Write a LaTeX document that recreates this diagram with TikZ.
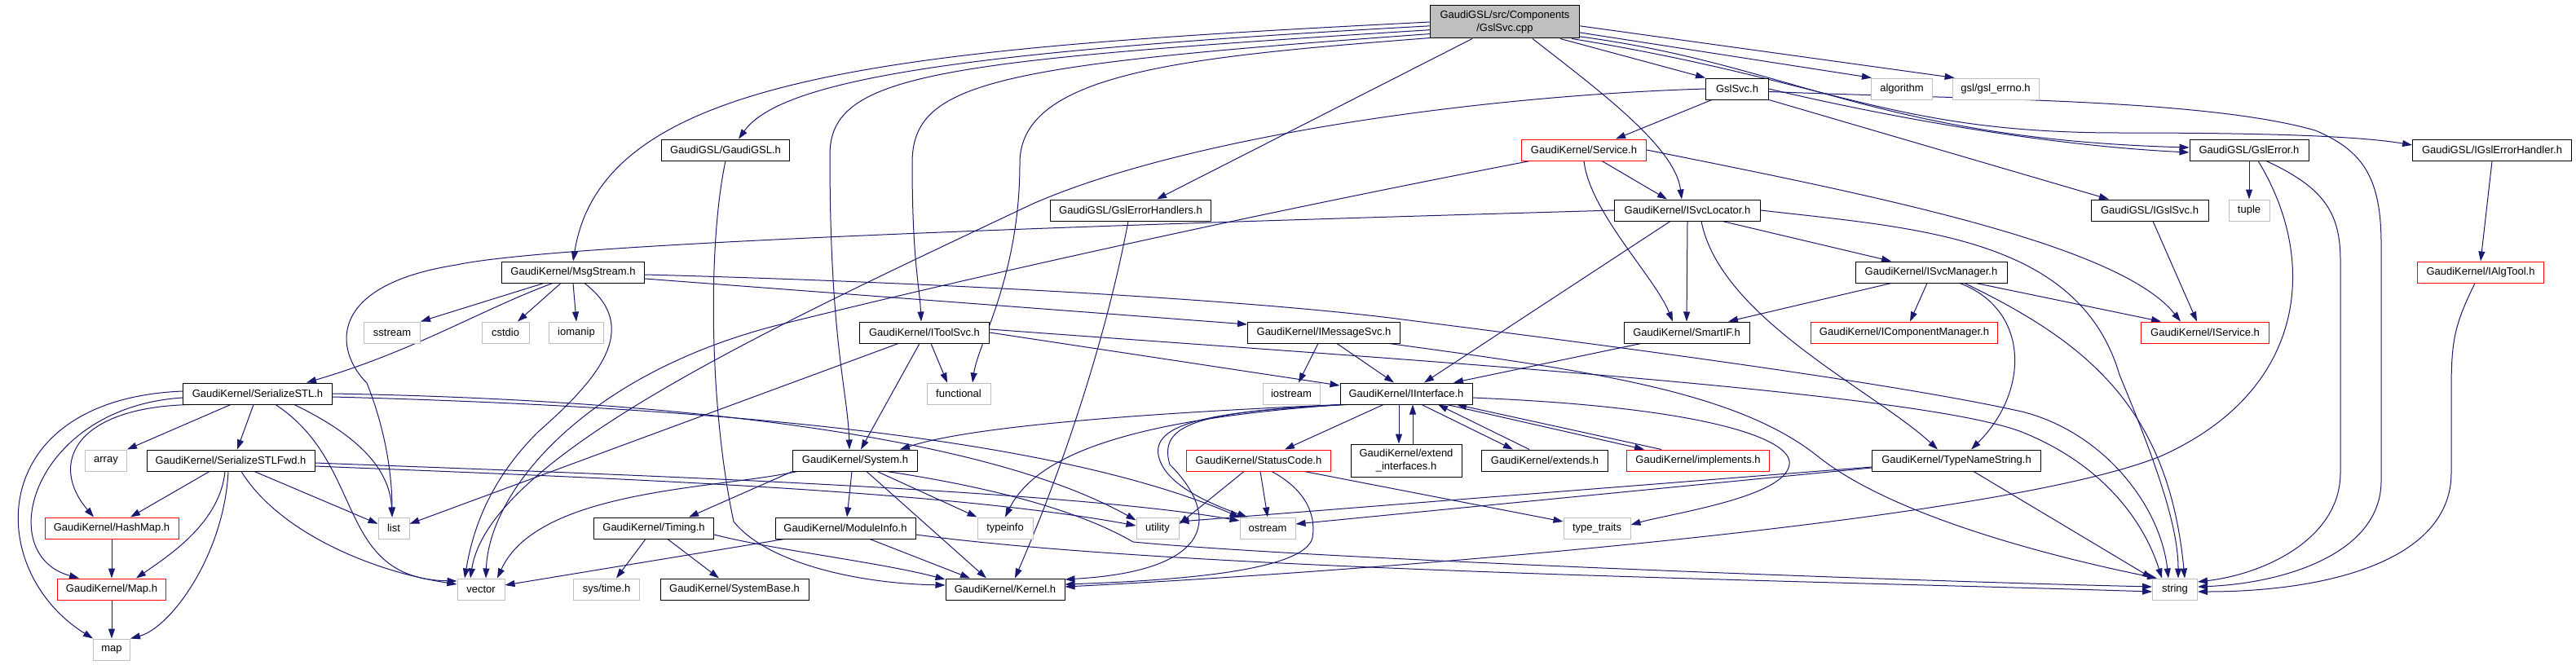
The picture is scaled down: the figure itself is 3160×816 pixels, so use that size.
\documentclass[tikz,border=0pt]{standalone}
\usepackage{fontspec}
\setmainfont{Liberation Sans}
\usetikzlibrary{arrows.meta}
\definecolor{edgec}{HTML}{191970}
\definecolor{extc}{HTML}{BFBFBF}
\pgfdeclarelayer{background}
\pgfsetlayers{background,main}
\tikzset{
 box/.style={draw=black, fill=white, line width=1pt, minimum height=26pt, inner sep=0pt, font=\fontsize{13}{15.5}\selectfont, text=black},
 redbox/.style={box, draw=red},
 extbox/.style={box, draw=extc},
 rootbox/.style={box, fill=extc, minimum height=40pt, align=center},
 edge/.style={draw=edgec, line width=1pt, -{Triangle[length=12pt,width=8pt]}},
}
\begin{document}
\begin{tikzpicture}[x=1pt,y=-1pt]
\useasboundingbox (0,0) rectangle (3160,816);
% nodes
\node[rootbox, minimum width=183pt] (root) at (1846,27) {GaudiGSL/src/Components\\/GslSvc.cpp};
\node[box, minimum width=157pt] (gaudigsl) at (890,184) {GaudiGSL/GaudiGSL.h};
\node[box, minimum width=175pt] (msgstream) at (703,334) {GaudiKernel/MsgStream.h};
\node[extbox, minimum width=69pt] (sstream) at (481,408) {sstream};
\node[extbox, minimum width=58pt] (cstdio) at (620,408) {cstdio};
\node[extbox, minimum width=67pt] (iomanip) at (707,408) {iomanip};
\node[box, minimum width=183pt] (serstl) at (316,483) {GaudiKernel/SerializeSTL.h};
\node[extbox, minimum width=51pt] (array) at (130,565) {array};
\node[box, minimum width=206pt] (serfwd) at (283,565) {GaudiKernel/SerializeSTLFwd.h};
\node[redbox, minimum width=164pt] (hashmap) at (137,648) {GaudiKernel/HashMap.h};
\node[extbox, minimum width=38pt] (list) at (483,648) {list};
\node[redbox, minimum width=133pt] (mapH) at (137,723) {GaudiKernel/Map.h};
\node[extbox, minimum width=45pt] (map) at (137,797) {map};
\node[extbox, minimum width=58pt] (vector) at (590,723) {vector};
\node[box, minimum width=147pt] (timing) at (802,648) {GaudiKernel/Timing.h};
\node[extbox, minimum width=81pt] (systime) at (744,723) {sys/time.h};
\node[box, minimum width=182pt] (sysbase) at (901,723) {GaudiKernel/SystemBase.h};
\node[box, minimum width=172pt] (moduleinfo) at (1037,648) {GaudiKernel/ModuleInfo.h};
\node[box, minimum width=153pt] (system) at (1049,565) {GaudiKernel/System.h};
\node[box, minimum width=146pt] (kernel) at (1233,723) {GaudiKernel/Kernel.h};
\node[extbox, minimum width=68pt] (typeinfo) at (1233,648) {typeinfo};
\node[extbox, minimum width=52pt] (utility) at (1420,648) {utility};
\node[extbox, minimum width=68pt] (ostream) at (1555,648) {ostream};
\node[extbox, minimum width=82pt] (typetraits) at (1959,648) {type\_traits};
\node[redbox, minimum width=177pt] (statuscode) at (1544,565) {GaudiKernel/StatusCode.h};
\node[box, minimum width=136pt, minimum height=40pt, align=center] (extif) at (1725,565) {GaudiKernel/extend\\\_interfaces.h};
\node[box, minimum width=155pt] (extends) at (1895,565) {GaudiKernel/extends.h};
\node[redbox, minimum width=175pt] (implements) at (2083,565) {GaudiKernel/implements.h};
\node[box, minimum width=207pt] (typename) at (2400,565) {GaudiKernel/TypeNameString.h};
\node[extbox, minimum width=55pt] (string) at (2668,723) {string};
\node[box, minimum width=159pt] (itoolsvc) at (1134,408) {GaudiKernel/IToolSvc.h};
\node[extbox, minimum width=78pt] (functional) at (1176,483) {functional};
\node[box, minimum width=187pt] (imsgsvc) at (1624,408) {GaudiKernel/IMessageSvc.h};
\node[extbox, minimum width=70pt] (iostream) at (1584,483) {iostream};
\node[box, minimum width=162pt] (iinterface) at (1725,483) {GaudiKernel/IInterface.h};
\node[box, minimum width=154pt] (smartif) at (2069,408) {GaudiKernel/SmartIF.h};
\node[box, minimum width=197pt] (errhandlers) at (1387,258) {GaudiGSL/GslErrorHandlers.h};
\node[redbox, minimum width=153pt] (service) at (1943,184) {GaudiKernel/Service.h};
\node[box, minimum width=179pt] (isvcloc) at (2070,258) {GaudiKernel/ISvcLocator.h};
\node[box, minimum width=77pt] (gslsvc) at (2131,109) {GslSvc.h};
\node[extbox, minimum width=75pt] (algorithm) at (2333,109) {algorithm};
\node[extbox, minimum width=106pt] (gslerrno) at (2448,109) {gsl/gsl\_errno.h};
\node[box, minimum width=146pt] (gslerror) at (2759,184) {GaudiGSL/GslError.h};
\node[box, minimum width=195pt] (igslerrh) at (3057,184) {GaudiGSL/IGslErrorHandler.h};
\node[box, minimum width=144pt] (igslsvc) at (2637,258) {GaudiGSL/IGslSvc.h};
\node[extbox, minimum width=50pt] (tuple) at (2759,258) {tuple};
\node[box, minimum width=186pt] (isvcmgr) at (2369,334) {GaudiKernel/ISvcManager.h};
\node[redbox, minimum width=229pt] (icompmgr) at (2336,408) {GaudiKernel/IComponentManager.h};
\node[redbox, minimum width=157pt] (iservice) at (2705,408) {GaudiKernel/IService.h};
\node[redbox, minimum width=155pt] (ialgtool) at (3043,334) {GaudiKernel/IAlgTool.h};

\begin{pgfonlayer}{background}
\fill[white] (0,0) rectangle (3160,816);
% root
\draw[edge] (root.180) .. controls (1100,60) and (740,90) .. (msgstream.north);
\draw[edge] (root.183) .. controls (1200,62) and (960,95) .. ([xshift=16pt]gaudigsl.north);
\draw[edge] (root.186) .. controls (1150,75) and (1018,90) .. (1018,190) .. controls (1018,420) and (1040,480) .. ([xshift=-7pt]system.north);
\draw[edge] (root.189) .. controls (1220,80) and (1119,100) .. (1119,200) .. controls (1119,320) and (1128,350) .. ([xshift=-4pt]itoolsvc.north);
\draw[edge] (root.192) .. controls (1450,70) and (1251,90) .. (1251,200) .. controls (1251,340) and (1200,420) .. ([xshift=17pt]functional.north);
\draw[edge] ([xshift=-40pt]root.south) -- ([xshift=32pt]errhandlers.north);
\draw[edge] ([xshift=34pt]root.south) .. controls (1960,110) and (2055,180) .. ([xshift=-7pt]isvcloc.north);
\draw[edge] ([xshift=-24pt]root.south east) -- (gslsvc.north west);
\draw[edge] (root.352) -- (algorithm.160);
\draw[edge] (root.357) -- (gslerrno.165);
\draw[edge] (root.349) .. controls (2200,80) and (2300,170) .. ([yshift=3pt]gslerror.west);
\draw[edge] (root.346) .. controls (2250,100) and (2320,163) .. (2600,163) .. controls (2800,163) and (2900,168) .. ([yshift=6pt]igslerrh.west);
% gslsvc
\draw[edge] ([xshift=-31pt]gslsvc.south) -- ([xshift=39pt]service.north);
\draw[edge] (gslsvc.west) .. controls (1800,118) and (1450,170) .. (1267,250) .. controls (950,400) and (600,560) .. ([xshift=-13pt]vector.north);
\draw[edge] (gslsvc.east) .. controls (2300,140) and (2500,178) .. ([yshift=-3pt]gslerror.west);
\draw[edge] (gslsvc.south east) -- ([xshift=-50pt]igslsvc.north);
\draw[edge] (gslsvc.-5) .. controls (2400,122) and (2700,120) .. (2840,160) .. controls (2900,185) and (2921,220) .. (2921,300) -- (2921,590) .. controls (2921,680) and (2800,716) .. ([yshift=3pt]string.east);
% gslerror
\draw[edge] (gslerror.south) -- (tuple.north);
\draw[edge] ([xshift=21pt]gslerror.south) .. controls (2850,230) and (2871,260) .. (2871,320) -- (2871,580) .. controls (2871,660) and (2780,704) .. ([yshift=9pt]string.east);
\draw[edge] ([xshift=11pt]gslerror.south) .. controls (2845,320) and (2830,480) .. (2650,560) .. controls (2450,640) and (1700,700) .. ([yshift=3pt]kernel.east);
\draw[edge] (igslerrh.south) -- (ialgtool.north);
\draw[edge] ([xshift=-7pt]ialgtool.south) .. controls (3010,400) and (3007,420) .. (3007,480) -- (3007,580) .. controls (3007,690) and (2850,726) .. ([yshift=-3pt]string.east);
\draw[edge] ([xshift=4pt]igslsvc.south) -- ([xshift=-10pt]iservice.north);
% isvcloc
\draw[edge] (isvcloc.west) .. controls (1500,272) and (700,295) .. (560,325) .. controls (400,350) and (410,430) .. (450,470) .. controls (478,540) and (481,600) .. ([xshift=-2pt]list.north);
\draw[edge] (isvcloc.south) -- (smartif.north);
\draw[edge] ([xshift=-21pt]isvcloc.south) -- ([xshift=22pt]iinterface.north);
\draw[edge] ([xshift=43pt]isvcloc.south) -- ([xshift=-49pt]isvcmgr.north);
\draw[edge] (isvcloc.east) .. controls (2350,280) and (2550,290) .. (2600,460) .. controls (2650,580) and (2672,650) .. ([xshift=4pt]string.north);
\draw[edge] ([xshift=17pt]isvcloc.south) .. controls (2110,390) and (2300,480) .. ([xshift=-23pt]typename.north);
% service
\draw[edge] ([xshift=22pt]service.south) -- ([xshift=-25pt]isvcloc.north);
\draw[edge] (service.south) .. controls (1950,260) and (2030,340) .. ([xshift=-17pt]smartif.north);
\draw[edge] (service.east) .. controls (2300,240) and (2600,300) .. ([xshift=-30pt]iservice.north);
\draw[edge] ([xshift=-66pt]service.south) .. controls (1500,270) and (1150,350) .. (950,400) .. controls (720,460) and (600,600) .. ([xshift=6pt]vector.north);
% itoolsvc
\draw[edge] ([xshift=8pt]itoolsvc.south) -- ([xshift=-14pt]functional.north);
\draw[edge] ([xshift=-6pt]itoolsvc.south) -- ([xshift=7pt]system.north);
\draw[edge] ([xshift=-32pt]itoolsvc.south) -- (list.15);
\draw[edge] (itoolsvc.east) -- ([yshift=10pt]iinterface.west);
\draw[edge] ([yshift=4pt]itoolsvc.east) .. controls (1700,440) and (2350,480) .. (2480,530) .. controls (2580,570) and (2630,640) .. ([xshift=-16pt]string.north);
% imsgsvc
\draw[edge] ([xshift=-7pt]imsgsvc.south) -- ([xshift=9pt]iostream.north);
\draw[edge] ([xshift=16pt]imsgsvc.south) -- ([xshift=-15pt]iinterface.north);
\draw[edge] ([xshift=80pt]imsgsvc.south) .. controls (1950,455) and (2130,480) .. (2230,560) .. controls (2330,640) and (2550,690) .. ([xshift=-22pt]string.north);
% msgstream
\draw[edge] ([xshift=-36pt]msgstream.south) -- (sstream.north east);
\draw[edge] ([xshift=-15pt]msgstream.south) -- ([xshift=15pt]cstdio.north);
\draw[edge] (msgstream.south) -- (iomanip.north);
\draw[edge] ([xshift=-25pt]msgstream.south) .. controls (590,380) and (510,430) .. ([xshift=60pt]serstl.north);
\draw[edge] ([xshift=14pt]msgstream.south) .. controls (785,400) and (740,460) .. (660,530) .. controls (600,590) and (580,650) .. ([xshift=-20pt]vector.north);
\draw[edge] ([yshift=-8pt]msgstream.east) -- ([yshift=10pt]imsgsvc.west);
\draw[edge] ([yshift=-3pt]msgstream.east) .. controls (1100,345) and (1500,365) .. (1705,390) .. controls (1900,415) and (2300,465) .. (2480,505) .. controls (2580,530) and (2650,620) .. ([xshift=-8pt]string.north);
% serstl
\draw[edge] ([xshift=-33pt]serstl.south) -- (array.north east);
\draw[edge] ([xshift=-5pt]serstl.south) -- ([xshift=8pt]serfwd.north);
\draw[edge] ([xshift=-83pt]serstl.south) .. controls (90,500) and (60,570) .. ([xshift=-22pt]hashmap.north);
\draw[edge] ([yshift=-5pt]serstl.west) .. controls (40,500) and (-10,680) .. ([xshift=-40pt]mapH.north);
\draw[edge] ([yshift=3pt]serstl.west) .. controls (-20,490) and (-20,700) .. (map.north west);
\draw[edge] ([xshift=45pt]serstl.south) .. controls (430,530) and (478,570) .. ([xshift=-2pt]list.north);
\draw[edge] ([xshift=22pt]serstl.south) .. controls (450,570) and (410,710) .. ([yshift=10pt]vector.west);
\draw[edge] (serstl.east) .. controls (800,490) and (1200,530) .. (utility.160);
\draw[edge] ([yshift=-4pt]serstl.east) .. controls (900,500) and (1300,540) .. (ostream.north west);
% serfwd
\draw[edge] ([xshift=-26pt]serfwd.south) -- ([xshift=23pt]hashmap.north);
\draw[edge] ([xshift=-7pt]serfwd.south) .. controls (270,640) and (210,680) .. ([xshift=30pt]mapH.north);
\draw[edge] ([xshift=-3pt]serfwd.south) .. controls (275,680) and (210,770) .. (map.north east);
\draw[edge] ([xshift=13pt]serfwd.south) .. controls (340,650) and (450,700) .. ([yshift=6pt]vector.west);
\draw[edge] ([xshift=29pt]serfwd.south) -- (list.165);
\draw[edge] ([yshift=-3pt]serfwd.east) .. controls (700,580) and (1300,600) .. ([yshift=9pt]ostream.west);
\draw[edge] ([yshift=-7pt]serfwd.east) .. controls (700,585) and (1150,600) .. ([yshift=3pt]utility.west);
% maps
\draw[edge] (hashmap.south) -- (mapH.north);
\draw[edge] (mapH.south) -- (map.north);
% system
\draw[edge] (system.south west) -- ([xshift=43pt]timing.north);
\draw[edge] ([xshift=6pt]system.south west) .. controls (880,600) and (660,600) .. ([xshift=20pt]vector.north);
\draw[edge] ([xshift=-4pt]system.south) -- ([xshift=2pt]moduleinfo.north);
\draw[edge] ([xshift=14pt]system.south) -- ([xshift=-23pt]kernel.north);
\draw[edge] ([xshift=27pt]system.south) -- (typeinfo.north west);
\draw[edge] ([xshift=39pt]system.south) .. controls (1230,600) and (1330,630) .. (1390,665) .. controls (1600,685) and (2300,712) .. ([yshift=3pt]string.west);
% moduleinfo
\draw[edge] ([yshift=-8pt]moduleinfo.east) .. controls (1450,700) and (2200,712) .. ([yshift=-3pt]string.west);
\draw[edge] ([xshift=30pt]moduleinfo.south) -- ([xshift=-43pt]kernel.north);
\draw[edge] ([xshift=-75pt]moduleinfo.south) -- ([yshift=5pt]vector.east);
% timing
\draw[edge] ([xshift=-10pt]timing.south) -- ([xshift=12pt]systime.north);
\draw[edge] ([xshift=17pt]timing.south) -- ([xshift=-19pt]sysbase.north);
\draw[edge] ([yshift=-8pt]timing.east) .. controls (950,675) and (1080,690) .. ([yshift=12pt]kernel.west);
% gaudigsl, errhandlers
\draw[edge] (gaudigsl.south) .. controls (868,300) and (870,500) .. (900,640) .. controls (940,690) and (1050,716) .. ([yshift=5pt]kernel.west);
\draw[edge] ([xshift=-3pt]errhandlers.south) .. controls (1360,400) and (1310,560) .. ([xshift=12pt]kernel.north);
% iinterface
\draw[edge] (iinterface.south west) .. controls (1450,505) and (1200,520) .. ([xshift=55pt]system.north);
\draw[edge] ([xshift=3pt]iinterface.south west) .. controls (1380,515) and (1270,560) .. (typeinfo.north);
\draw[edge] ([xshift=6pt]iinterface.south west) .. controls (1480,505) and (1400,520) .. (1425,570) .. controls (1440,600) and (1490,620) .. ([xshift=-25pt]ostream.north);
\draw[edge] ([xshift=9pt]iinterface.south west) .. controls (1470,505) and (1420,520) .. (1435,570) .. controls (1495,630) and (1495,700) .. ([yshift=12pt]kernel.east);
\draw[edge] ([xshift=-28pt]iinterface.south) -- ([xshift=32pt]statuscode.north);
\draw[edge] ([xshift=-9pt]iinterface.south) -- ([xshift=-9pt]extif.north);
\draw[edge] ([xshift=8pt]extif.north) -- ([xshift=8pt]iinterface.south);
\draw[edge] ([xshift=19pt]iinterface.south) -- ([xshift=-39pt]extends.north);
\draw[edge] ([xshift=-19pt]extends.north) -- ([xshift=39pt]iinterface.south);
\draw[edge] ([xshift=50pt]iinterface.south) -- ([xshift=-66pt]implements.north);
\draw[edge] ([xshift=-45pt]implements.north) -- ([xshift=62pt]iinterface.south);
\draw[edge] ([yshift=-5pt]iinterface.east) .. controls (2100,500) and (2200,540) .. (2195,570) .. controls (2190,610) and (2050,630) .. ([yshift=4pt]typetraits.east);
% statuscode
\draw[edge] ([xshift=-18pt]statuscode.south) -- ([yshift=5pt]utility.east);
\draw[edge] ([xshift=2pt]statuscode.south) -- (ostream.north);
\draw[edge] ([xshift=16pt]statuscode.south) .. controls (1600,600) and (1615,630) .. (1610,660) .. controls (1600,700) and (1450,712) .. ([yshift=6pt]kernel.east);
\draw[edge] ([xshift=56pt]statuscode.south) -- ([yshift=8pt]typetraits.west);
% smartif
\draw[edge] ([xshift=-56pt]smartif.south) -- ([xshift=58pt]iinterface.north);
% isvcmgr
\draw[edge] ([xshift=-49pt]isvcmgr.south) -- ([xshift=51pt]smartif.north);
\draw[edge] ([xshift=-5pt]isvcmgr.south) -- ([xshift=7pt]icompmgr.north);
\draw[edge] ([xshift=55pt]isvcmgr.south) -- ([xshift=-54pt]iservice.north);
\draw[edge] ([xshift=35pt]isvcmgr.south) .. controls (2490,380) and (2490,480) .. ([xshift=18pt]typename.north);
\draw[edge] ([xshift=41pt]isvcmgr.south) .. controls (2560,420) and (2660,500) .. ([xshift=12pt]string.north);
% typename
\draw[edge] ([xshift=21pt]typename.south) -- (string.north west);
\draw[edge] ([yshift=-9pt]typename.west) -- ([yshift=5pt]ostream.east);
\draw[edge] ([yshift=-8pt]typename.west) -- ([yshift=8pt]utility.east);
\end{pgfonlayer}
\end{tikzpicture}
\end{document}
